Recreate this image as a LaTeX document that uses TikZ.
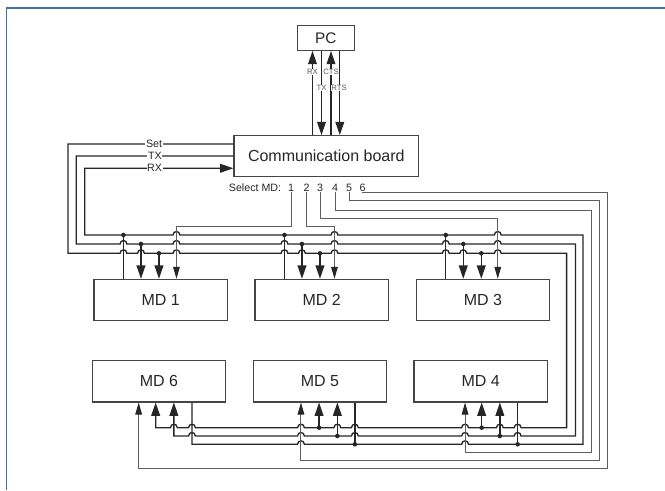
\documentclass[tikz,border=0pt]{standalone}
\usepackage{fontspec}
\setmainfont{Liberation Sans}
\usepackage{tikz}
\usetikzlibrary{arrows.meta, calc}
\definecolor{wire}{HTML}{262626}
\definecolor{selgray}{HTML}{5E5E5E}
\definecolor{boxline}{HTML}{454545}
\definecolor{frameblue}{RGB}{68,112,168}
\tikzset{
  mdbox/.style={rectangle, draw=boxline, line width=0.85pt, minimum width=100pt, minimum height=31pt, inner sep=0pt, font=\fontsize{12}{14}\selectfont, text=wire},
  pcbox/.style={mdbox, minimum width=43pt, minimum height=18.8pt, font=\fontsize{11.5}{13}\selectfont},
  boardbox/.style={mdbox, minimum width=138.5pt, minimum height=30.5pt},
  bus/.style={draw=wire, line width=1pt},
  selline/.style={draw=selgray, line width=0.75pt},
  busarrow/.style={-{Triangle[length=10pt,width=6.6pt]}},
  selarrow/.style={-{Triangle[length=9pt,width=5pt,color=wire]}},
  wirelabel/.style={fill=white, inner sep=0.5pt, font=\fontsize{8}{9}\selectfont, text=wire},
  pclabel/.style={fill=white, inner sep=0.3pt, font=\fontsize{5.8}{6}\selectfont, text=black!65},
  sellabel/.style={inner sep=0.5pt, font=\fontsize{8}{9}\selectfont, text=wire},
  blueframe/.style={draw=frameblue, line width=1.2pt},
}

\begin{document}
\begin{tikzpicture}[x=0.75pt, y=-0.75pt]
  \useasboundingbox (0,0) rectangle (665,490);
  % Frame
  \draw[blueframe] (6.5,490) -- (6.5,8) -- (665,8);

  % Boxes
  \node[pcbox] (pc) at (325.8,37.8) {PC};
  \node[boardbox] (board) at (326.3,156) {Communication board};
  \node[mdbox] (md1) at (160.7,300) {MD 1};
  \node[mdbox] (md2) at (321.7,300) {MD 2};
  \node[mdbox] (md3) at (483,300) {MD 3};
  \node[mdbox] (md6) at (158.9,381.3) {MD 6};
  \node[mdbox] (md5) at (320,381.3) {MD 5};
  \node[mdbox] (md4) at (480.7,381.3) {MD 4};

  % Select outputs
  \node[sellabel, anchor=east] (selmd) at (282,187.7) {Select MD:};
  \foreach \n/\x in {1/291,2/306.5,3/320,4/335,5/349,6/362.5}
    \node[sellabel] (s\n) at (\x,187.7) {\n};

  % Tap points on the boxes
  \foreach \b/\xc in {md1/83, md2/80, md3/82} {
    \path (\b.north west) ++(30,0) coordinate (\b-r) ++(17.5,0) coordinate (\b-t) ++(18,0) coordinate (\b-s);
    \path (\b.north west) ++(\xc,0) coordinate (\b-c);
  }
  \foreach \b/\xc/\xs/\xt/\xr in {md6/47/64/82.2/100.3, md5/48.2/66.3/84.6/102.1, md4/51.6/68.2/86.4/104.2} {
    \path (\b.south west) ++(\xc,0) coordinate (\b-c);
    \path (\b.south west) ++(\xs,0) coordinate (\b-s);
    \path (\b.south west) ++(\xt,0) coordinate (\b-t);
    \path (\b.south west) ++(\xr,0) coordinate (\b-r);
  }

  % Bus corners
  \coordinate (setout) at ([yshift=9pt]board.west);
  \coordinate (txout) at (board.west);
  \coordinate (rxin) at ([yshift=-9.2pt]board.west);
  \coordinate (setL) at (68,253.3);
  \coordinate (txL) at (76.3,244);
  \coordinate (rxL) at (84.8,235);
  \coordinate (setR) at (566.6,253.3);
  \coordinate (txR) at (575.5,244);
  \coordinate (rxR) at (583,235);
  \coordinate (setB) at (566.6,427.7);
  \coordinate (txB) at (575.5,436);
  \coordinate (rxB) at (583,444.3);
  % Select levels
  \coordinate (lev12) at (0,226);
  \coordinate (lev3) at (0,218.3);
  \coordinate (r4t) at (591.6,210);
  \coordinate (r4b) at (591.6,452.3);
  \coordinate (r5t) at (599.2,200.5);
  \coordinate (r5b) at (599.2,460.3);
  \coordinate (r6t) at (607.3,192.7);
  \coordinate (r6b) at (607.3,468.3);

  % PC link
  \path (pc.south) ++(-13.3,0) coordinate (pcrx) ++(9,0) coordinate (pctx) ++(9.5,0) coordinate (pccts) ++(8.8,0) coordinate (pcrts);
  \draw[bus, busarrow] (pcrx |- board.north) -- node[pclabel, pos=0.75] (lblpcrx) {RX} (pcrx);
  \draw[bus, busarrow] (pctx) -- node[pclabel, pos=0.44] (lblpctx) {TX} (pctx |- board.north);
  \draw[bus, busarrow] (pccts |- board.north) -- node[pclabel, pos=0.75] (lblcts) {CTS} (pccts);
  \draw[bus, busarrow] (pcrts) -- node[pclabel, pos=0.44, xshift=-0.6pt] (lblrts) {RTS} (pcrts |- board.north);

  % Set line
  \draw[bus, busarrow] (setout) -- node[wirelabel, pos=0.48] (lblset) {Set} (setout -| setL) -- (setL)
    \foreach \p in {md1-r,md1-t,md1-c,md2-r,md2-t,md2-c,md3-r,md3-t,md3-c} {
      -- ($(\p |- setL)+(-3.4,0)$) .. controls +(0,-4.6) and +(0,-4.6) .. ($(\p |- setL)+(3.4,0)$) }
    -- (setR) -- (setB)
    \foreach \p in {md4-r,md4-t,md4-c,md5-r,md5-t,md5-c,md6-r,md6-t} {
      -- ($(\p |- setB)+(3.4,0)$) .. controls +(0,-4.6) and +(0,-4.6) .. ($(\p |- setB)+(-3.4,0)$) }
    -- (setB -| md6-s) -- (md6-s);

  % TX line
  \draw[bus, busarrow] (txout) -- node[wirelabel, pos=0.5] (lbltx) {TX} (txout -| txL) -- (txL)
    \foreach \p in {md1-r,md1-c,md2-r,md2-c,md3-r,md3-c} {
      -- ($(\p |- txL)+(-3.4,0)$) .. controls +(0,-4.6) and +(0,-4.6) .. ($(\p |- txL)+(3.4,0)$) }
    -- (txR) -- (txB)
    \foreach \p in {md4-r,md4-c,md5-r,md5-c,md6-r} {
      -- ($(\p |- txB)+(3.4,0)$) .. controls +(0,-4.6) and +(0,-4.6) .. ($(\p |- txB)+(-3.4,0)$) }
    -- (txB -| md6-t) -- (md6-t);

  % RX line
  \draw[bus, busarrow] (md6-r) -- (md6-r |- rxB)
    \foreach \p in {md5-c,md4-c} {
      -- ($(\p |- rxB)+(-3.4,0)$) .. controls +(0,-4.6) and +(0,-4.6) .. ($(\p |- rxB)+(3.4,0)$) }
    -- (rxB) -- (rxR)
    \foreach \p in {md3-c,md2-c,md1-c} {
      -- ($(\p |- rxL)+(3.4,0)$) .. controls +(0,-4.6) and +(0,-4.6) .. ($(\p |- rxL)+(-3.4,0)$) }
    -- (rxL) -- (rxL |- rxin) -- node[wirelabel, pos=0.47] (lblrx) {RX} (rxin);

  % Taps, top row
  \foreach \b in {md1,md2,md3} {
    \draw[bus] (\b-r) -- (\b-r |- rxL);
    \draw[bus, busarrow] (\b-t |- txL) -- (\b-t);
    \draw[bus, busarrow] (\b-s |- setL) -- (\b-s);
    \fill[wire] (\b-r |- rxL) circle[radius=1.7pt] (\b-t |- txL) circle[radius=1.7pt] (\b-s |- setL) circle[radius=1.7pt];
  }
  % Taps, bottom row
  \foreach \b in {md4,md5} {
    \draw[bus] (\b-r) -- (\b-r |- rxB);
    \draw[bus, busarrow] (\b-t |- txB) -- (\b-t);
    \draw[bus, busarrow] (\b-s |- setB) -- (\b-s);
    \fill[wire] (\b-r |- rxB) circle[radius=1.7pt] (\b-t |- txB) circle[radius=1.7pt] (\b-s |- setB) circle[radius=1.7pt];
  }

  % Select lines
  \draw[selline, selarrow] (s1.south) |- (lev12 -| md1-c) -- (md1-c);
  \draw[selline, selarrow] (s2.south) |- (lev12 -| md2-c) -- (md2-c);
  \draw[selline, selarrow] (s3.south) |- (lev3 -| md3-c) -- (md3-c);
  \draw[selline, selarrow] (s4.south) |- (r4t) -- (r4b) -| (md4-c);
  \draw[selline, selarrow] (s5.south) |- (r5t) -- (r5b) -| (md5-c);
  \draw[selline, selarrow] (s6.south) |- (r6t) -- (r6b) -| (md6-c);
\end{tikzpicture}
\end{document}
